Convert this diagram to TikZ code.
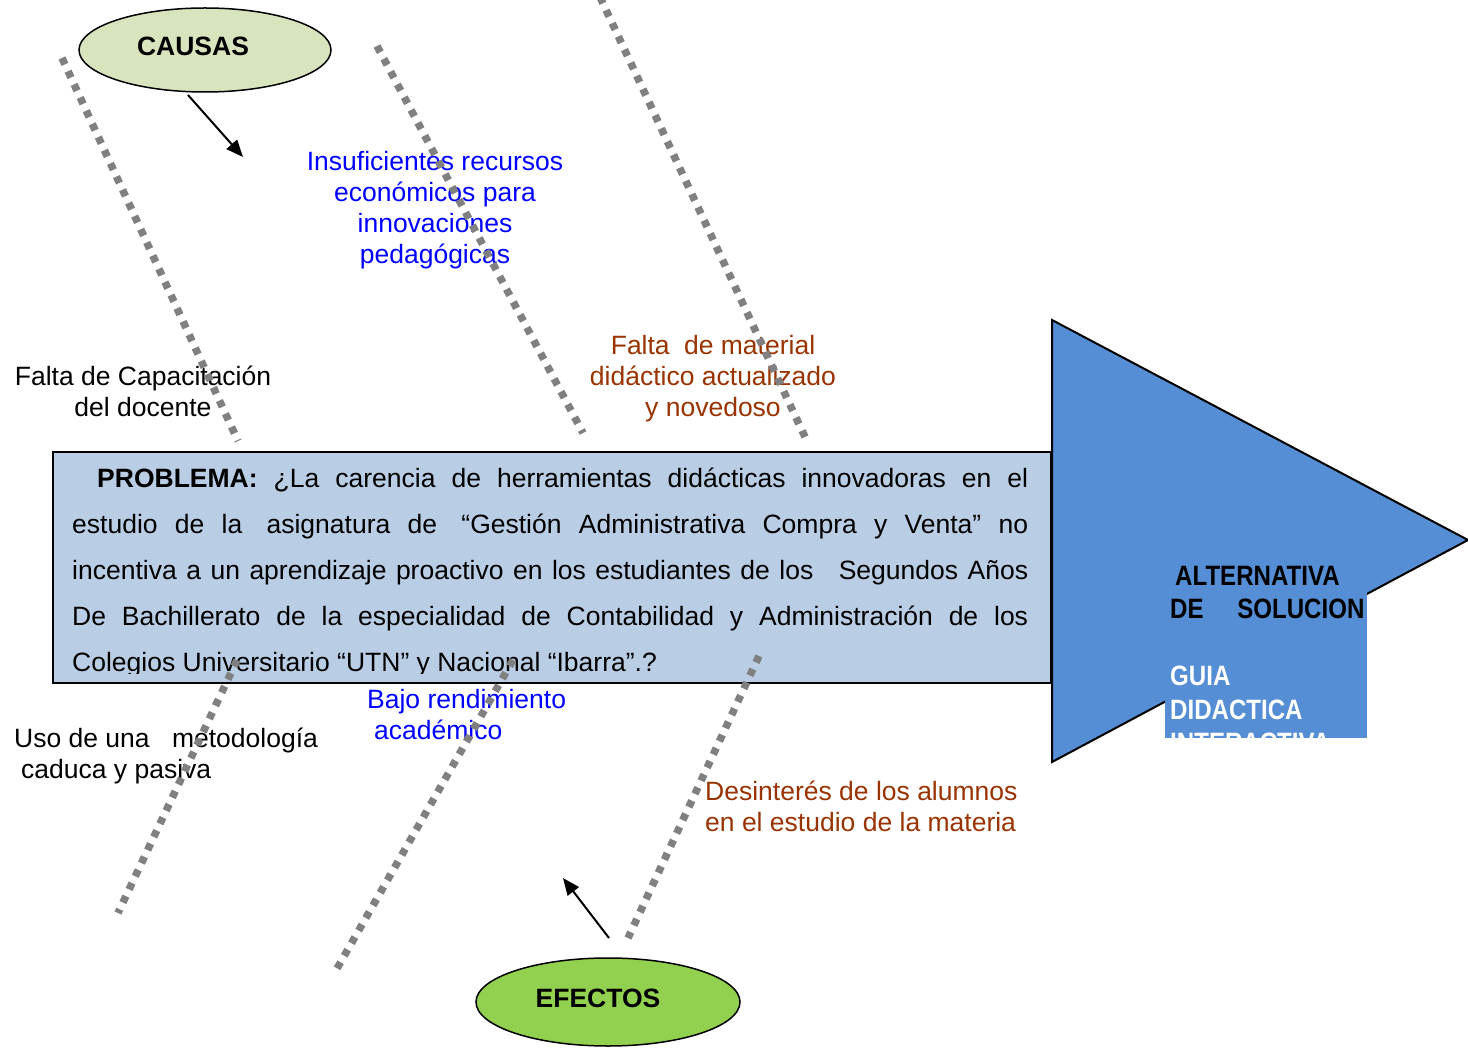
\documentclass[tikz,border=0pt]{standalone}
\usepackage{fontspec}
\setmainfont{Liberation Sans}
\newfontfamily\narrowfont[FakeStretch=0.86]{Liberation Sans}
\usetikzlibrary{shapes.geometric,arrows.meta}
\definecolor{boxblue}{RGB}{185,205,229}
\definecolor{triblue}{RGB}{85,142,213}
\definecolor{causasgreen}{RGB}{215,228,189}
\definecolor{efectosgreen}{RGB}{146,208,80}
\definecolor{dotgray}{RGB}{128,128,128}
\definecolor{brownred}{RGB}{153,51,0}
\definecolor{pureblue}{RGB}{0,0,255}
\begin{document}
\begin{tikzpicture}[x=1pt,y=-1pt,
  lbl/.style={font=\fontsize{26.5}{31}\selectfont, inner sep=0pt, align=center, anchor=north},
  lbll/.style={font=\fontsize{26.5}{31}\selectfont, inner sep=0pt, align=left, anchor=north west},
  dotline/.style={line width=7.5pt, draw=dotgray, dash pattern=on 7pt off 7.5pt},
  ovalbox/.style={ellipse, draw=black, line width=1.5pt, inner sep=0pt},
  ovaltext/.style={font=\fontsize{26.5}{31}\selectfont\bfseries, inner sep=0pt, anchor=base},
  arrowline/.style={line width=2pt, -{Triangle[length=17pt,width=14pt]}}
]
\path[use as bounding box, fill=white] (0,0) rectangle (1468,1048);

% problem box
\node[draw=black, fill=boxblue, line width=2pt, minimum width=998pt, minimum height=231pt,
      anchor=north west, inner sep=0pt] (prob) at (52,451) {};
\begin{scope}
\clip (52,451) rectangle (1050,673);
\node[anchor=north west, inner sep=0pt, font=\fontsize{26.5}{46}\selectfont, align=left] (probtext) at (72,454.8)
{\strut\makebox[956pt][s]{\hspace*{25pt}\textbf{PROBLEMA:} ¿La carencia de herramientas didácticas innovadoras en el}\\
\makebox[956pt][s]{estudio de la\hspace{7pt} asignatura de\hspace{7pt} “Gestión Administrativa Compra y Venta” no}\\
\makebox[956pt][s]{incentiva a un aprendizaje proactivo en los estudiantes de los\hspace{16pt} Segundos Años}\\
\makebox[956pt][s]{De Bachillerato de la especialidad de Contabilidad y Administración de los}\\
Colegios Universitario “UTN” y Nacional “Ibarra”.?};
\end{scope}

% arrow-head triangle
\draw[fill=triblue, line width=2pt] (1052,320) -- (1468,540) -- (1052,762) -- cycle;
\fill[triblue] (1165,550) rectangle (1367,738);
\begin{scope}
\clip (1165,550) rectangle (1367,738);
\node[anchor=north west, inner sep=0pt, font=\fontsize{28}{33.5}\selectfont\narrowfont\bfseries, align=left] (alt) at (1170,561.5)
{\strut\hspace*{5pt}ALTERNATIVA\\
DE\hspace{27pt} SOLUCION\\[33.5pt]
\textcolor{white}{GUIA}\\
\textcolor{white}{DIDACTICA}\\
\textcolor{white}{INTERACTIVA}};
\end{scope}

% ovals
\node[ovalbox, fill=causasgreen, minimum width=252pt, minimum height=84pt] (causas) at (205,50) {};
\node[ovaltext] (causaslbl) at (193,56) {CAUSAS};
\node[ovalbox, fill=efectosgreen, minimum width=264pt, minimum height=88pt] (efectos) at (608,1002) {};
\node[ovaltext] (efectoslbl) at (598,1007) {EFECTOS};

\coordinate (ca1) at (188,95);
\coordinate (ca2) at (243,157);
\draw[arrowline] (ca1) -- (ca2);
\coordinate (ef1) at (609,938);
\coordinate (ef2) at (563,878);
\draw[arrowline] (ef1) -- (ef2);

% labels
\node[lbl, text=pureblue] (insuf) at (435,148.3) {\strut Insuficientes recursos\\económicos para\\innovaciones\\pedagógicas};
\node[lbl, text=brownred] (material) at (713,332.3) {\strut Falta\hspace{7pt} de material\\didáctico actualizado\\y novedoso};
\node[lbl] (capac) at (143,363.3) {\strut Falta de Capacitación\\del docente};
\node[lbll, text=pureblue] (bajo) at (367,686.3) {\strut Bajo rendimiento\\\hspace*{7pt}académico};
\node[lbll] (uso) at (14,725.3) {\strut Uso de una\hspace{15pt} metodología\\\hspace*{7pt}caduca y pasiva};
\node[lbll, text=brownred] (desint) at (705,778.3) {\strut Desinterés de los alumnos\\en el estudio de la materia};

% dotted bones
\coordinate (u1a) at (62,58);   \coordinate (u1b) at (238,441);
\coordinate (u2a) at (377,46);  \coordinate (u2b) at (583,433);
\coordinate (u3a) at (600,-3);  \coordinate (u3b) at (805,437);
\coordinate (d1a) at (237,660); \coordinate (d1b) at (118,913);
\coordinate (d2a) at (513,660); \coordinate (d2b) at (335,972);
\coordinate (d3a) at (759,656); \coordinate (d3b) at (628,938);
\draw[dotline] (u1a) -- (u1b);
\draw[dotline] (u2a) -- (u2b);
\draw[dotline] (u3a) -- (u3b);
\draw[dotline] (d1a) -- (d1b);
\draw[dotline] (d2a) -- (d2b);
\draw[dotline] (d3a) -- (d3b);
\end{tikzpicture}
\end{document}
